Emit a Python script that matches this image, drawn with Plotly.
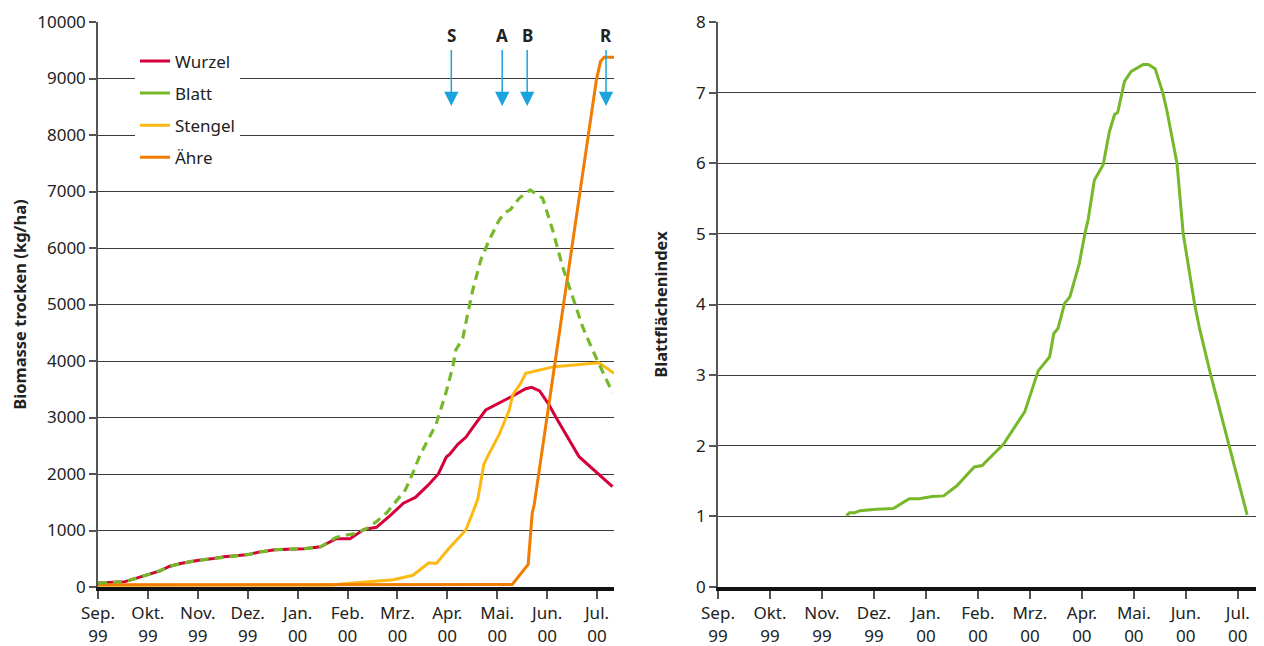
import plotly.graph_objects as go
from plotly.subplots import make_subplots

# ---- data (x = months since 1 Sep 1999) ----
month_labels = ["Sep.<br>99", "Okt.<br>99", "Nov.<br>99", "Dez.<br>99", "Jan.<br>00", "Feb.<br>00",
                "Mrz.<br>00", "Apr.<br>00", "Mai.<br>00", "Jun.<br>00", "Jul.<br>00"]
month_pos = list(range(11))

wurzel_x = [0.0, 0.54, 0.74, 0.99, 1.24, 1.44, 1.65, 1.9, 2.02, 2.27, 2.52, 2.76, 3.02, 3.22, 3.55, 3.8,
            4.13, 4.46, 4.77, 5.05, 5.33, 5.58, 5.87, 6.12, 6.36, 6.61, 6.82, 6.98, 7.05, 7.21, 7.37,
            7.57, 7.77, 8.31, 8.57, 8.69, 8.85, 9.04, 9.17, 9.64, 10.0, 10.31]
wurzel_y = [70, 95, 148, 220, 285, 368, 415, 457, 475, 498, 534, 552, 576, 617, 659, 670,
            677, 712, 855, 855, 1021, 1056, 1276, 1484, 1585, 1798, 2000, 2300, 2350, 2526, 2650,
            2897, 3133, 3381, 3510, 3535, 3469, 3221, 3014, 2306, 2018, 1775]

blatt_x = [0.0, 0.54, 0.74, 0.99, 1.24, 1.44, 1.65, 1.9, 2.02, 2.27, 2.52, 2.76, 3.02, 3.22, 3.55, 3.8,
           4.13, 4.46, 4.77, 4.98, 5.18, 5.43, 5.58, 5.79, 5.95, 6.16, 6.31, 6.44, 6.61, 6.77, 6.97,
           7.11, 7.17, 7.31, 7.41, 7.51, 7.67, 7.84, 8.04, 8.14, 8.27, 8.44, 8.66, 8.91, 9.11, 9.31,
           9.51, 9.71, 9.91, 10.04, 10.31]
blatt_y = [70, 95, 148, 220, 285, 368, 415, 457, 475, 498, 534, 552, 576, 617, 659, 670,
           677, 712, 878, 920, 950, 1056, 1157, 1318, 1496, 1721, 2018, 2306, 2602, 2867, 3428,
           3899, 4195, 4402, 4844, 5257, 5788, 6142, 6496, 6614, 6685, 6880, 7027, 6880, 6319, 5669,
           5138, 4607, 4195, 3959, 3440]

stengel_x = [0.0, 4.7, 4.93, 5.43, 5.92, 6.31, 6.63, 6.78, 7.03, 7.28, 7.37, 7.53, 7.61, 7.73, 7.8,
             8.04, 8.24, 8.31, 8.47, 8.57, 9.14, 10.04, 10.34]
stengel_y = [30, 35, 59, 89, 130, 208, 427, 415, 682, 920, 1009, 1365, 1555, 2166, 2300,
             2700, 3133, 3400, 3605, 3782, 3900, 3970, 3782]

aehre_x = [0.0, 8.3, 8.62, 8.70, 8.74, 9.99, 10.07, 10.14, 10.34]
aehre_y = [40, 45, 400, 1300, 1450, 8990, 9300, 9376, 9376]

lai_x = [2.47, 2.53, 2.63, 2.73, 3.05, 3.37, 3.68, 3.87, 4.12, 4.34, 4.59, 4.93, 5.08, 5.43, 5.49,
         5.9, 6.16, 6.38, 6.46, 6.54, 6.67, 6.77, 6.95, 7.06, 7.12, 7.24, 7.41, 7.53, 7.63, 7.69,
         7.82, 7.95, 8.18, 8.28, 8.41, 8.56, 8.64, 8.83, 8.95, 9.17, 9.27, 9.48, 9.83, 10.18]
lai_y = [1.01, 1.05, 1.05, 1.08, 1.10, 1.11, 1.25, 1.25, 1.28, 1.29, 1.43, 1.70, 1.72, 1.97, 2.02,
         2.48, 3.06, 3.26, 3.59, 3.66, 4.02, 4.11, 4.58, 5.01, 5.2, 5.76, 5.98, 6.45, 6.69, 6.72,
         7.16, 7.30, 7.40, 7.40, 7.34, 6.99, 6.73, 6.0, 5.0, 4.0, 3.64, 3.0, 2.0, 1.02]

event_labels = ["S", "A", "B", "R"]
event_x = [7.08, 8.1, 8.6, 10.18]

# ---- styling ----
C_WURZEL = "#d5003b"
C_BLATT = "#76b82a"
C_STENGEL = "#fdb913"
C_AEHRE = "#f07c00"
C_ARROW = "#1aa3dd"
FONT = "Noto Sans"
TXT = "#222222"

fig = make_subplots(rows=1, cols=2)

fig.add_trace(go.Scatter(x=wurzel_x, y=wurzel_y, mode="lines", name="Wurzel",
                         line=dict(color=C_WURZEL, width=3), legendgroup="w"), 1, 1)
fig.add_trace(go.Scatter(x=stengel_x, y=stengel_y, mode="lines", name="Stengel", showlegend=False,
                         line=dict(color=C_STENGEL, width=3)), 1, 1)
fig.add_trace(go.Scatter(x=aehre_x, y=aehre_y, mode="lines", name="Ähre", showlegend=False,
                         line=dict(color=C_AEHRE, width=3)), 1, 1)
fig.add_trace(go.Scatter(x=blatt_x, y=blatt_y, mode="lines", name="Blatt", showlegend=False,
                         line=dict(color=C_BLATT, width=3.2, dash="9px,6px")), 1, 1)
# legend entries (solid samples)
fig.add_trace(go.Scatter(x=[None], y=[None], mode="lines", name="Blatt", legendgroup="b",
                         line=dict(color=C_BLATT, width=3)), 1, 1)
fig.add_trace(go.Scatter(x=[None], y=[None], mode="lines", name="Stengel", legendgroup="s",
                         line=dict(color=C_STENGEL, width=3)), 1, 1)
fig.add_trace(go.Scatter(x=[None], y=[None], mode="lines", name="Ähre", legendgroup="a",
                         line=dict(color=C_AEHRE, width=3)), 1, 1)

fig.add_trace(go.Scatter(x=lai_x, y=lai_y, mode="lines", name="Blattflächenindex", showlegend=False,
                         line=dict(color=C_BLATT, width=3)), 1, 2)

xcommon = dict(tickmode="array", tickvals=month_pos, ticktext=month_labels, showgrid=False,
               zeroline=False, showline=True, linecolor="#111111", linewidth=4,
               ticks="outside", ticklen=8, tickwidth=1.5, tickcolor="#555555", automargin=False,
               tickfont=dict(family=FONT, size=17, color=TXT))
ycommon = dict(showgrid=True, gridcolor="#3a3a3a", gridwidth=1.2, zeroline=False,
               showline=True, linecolor="#555555", linewidth=1.5, automargin=False,
               ticks="outside", ticklen=7, tickwidth=1.5, tickcolor="#555555", tickformat="d",
               tickfont=dict(family=FONT, size=17, color=TXT))

fig.update_xaxes(range=[0, 10.34], domain=[98 / 1264, 614 / 1264], row=1, col=1, **xcommon)
fig.update_xaxes(range=[0, 10.35], domain=[718 / 1264, 1256 / 1264], row=1, col=2, **xcommon)
fig.update_yaxes(range=[0, 10000], dtick=1000, row=1, col=1,
                 title=dict(text="<b>Biomasse trocken (kg/ha)</b>", font=dict(family=FONT, size=16.5, color=TXT),
                            standoff=6), **ycommon)
fig.update_yaxes(range=[0, 8], dtick=1, row=1, col=2,
                 title=dict(text="<b>Blattflächenindex</b>", font=dict(family=FONT, size=16.5, color=TXT),
                            standoff=24), **ycommon)

annotations = []
for lab, xv in zip(event_labels, event_x):
    annotations.append(dict(x=xv, y=8513, xref="x", yref="y", axref="x", ayref="y", ax=xv, ay=9530,
                            text="", showarrow=True, arrowhead=2, arrowsize=1.9, arrowwidth=1.5,
                            arrowcolor=C_ARROW, standoff=0))
    annotations.append(dict(x=xv, y=9755, xref="x", yref="y", text="<b>" + lab + "</b>", showarrow=False,
                            font=dict(family=FONT, size=17, color=TXT)))

fig.update_layout(
    width=1264, height=646,
    margin=dict(l=0, r=0, t=22, b=59),
    paper_bgcolor="white", plot_bgcolor="white",
    font=dict(family=FONT, size=17, color=TXT),
    showlegend=True,
    legend=dict(x=135 / 1264, y=0.962, xanchor="left", yanchor="top", bgcolor="white",
                font=dict(family=FONT, size=17, color=TXT), tracegroupgap=7,
                itemwidth=30),
    annotations=annotations,
)

fig.write_html("out.html")
